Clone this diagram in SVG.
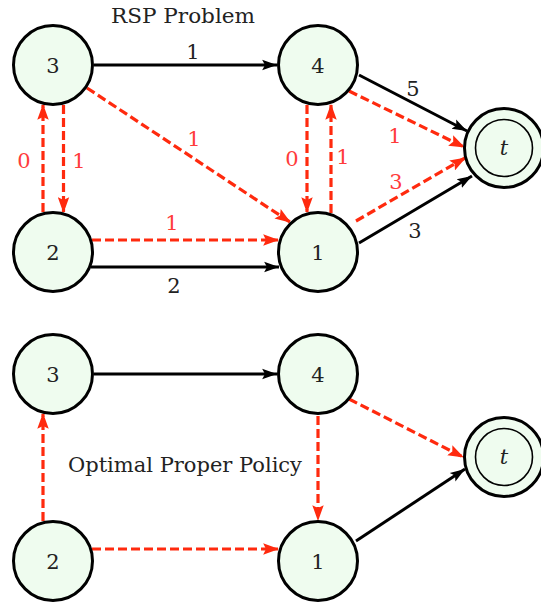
<svg xmlns="http://www.w3.org/2000/svg" width="541" height="607" viewBox="0 0 541 607">
<defs>
<marker id="ab" markerUnits="userSpaceOnUse" markerWidth="16" markerHeight="12" viewBox="0 0 14 10" refX="13" refY="5" orient="auto">
<path d="M0,0.5 L13,5 L0,9.5 L2.5,5 Z" fill="#000"/>
</marker>
<marker id="ar" markerUnits="userSpaceOnUse" markerWidth="16" markerHeight="12" viewBox="0 0 14 10" refX="13" refY="5" orient="auto">
<path d="M0,0 L14,5 L0,10 L2.5,5 Z" fill="#ff2a0e"/>
</marker>
</defs>
<style>
.node circle{fill:#effcef;stroke:#000;stroke-width:3}
.node circle.inner{fill:none;stroke:#000;stroke-width:1.6}
.node text{font-family:"DejaVu Serif",serif;font-size:21px;fill:#222;text-anchor:middle}
.b{stroke:#000;stroke-width:3;fill:none;marker-end:url(#ab)}
.r{stroke:#ff2a0e;stroke-width:3.2;fill:none;stroke-dasharray:9 4;marker-end:url(#ar)}
.lb{font-family:"DejaVu Serif",serif;font-size:21px;fill:#222;text-anchor:middle}
.lr{font-family:"DejaVu Serif",serif;font-size:21px;fill:#ff3b3b;text-anchor:middle}
.title{font-family:"DejaVu Serif",serif;font-size:19.5px;fill:#222;text-anchor:middle}
</style>
<text class="title" x="183" y="23" textLength="144" lengthAdjust="spacingAndGlyphs">RSP Problem</text>
<text class="title" x="185" y="472" textLength="234" lengthAdjust="spacingAndGlyphs">Optimal Proper Policy</text>
<g id="connectors">
<line class="b" x1="94" y1="65" x2="277" y2="65"/>
<line class="r" x1="87" y1="88" x2="290" y2="222"/>
<line class="r" x1="43" y1="212" x2="43" y2="105"/>
<line class="r" x1="63.5" y1="105" x2="63.5" y2="212"/>
<line class="r" x1="92" y1="240" x2="278" y2="240"/>
<line class="b" x1="91" y1="267" x2="279" y2="267"/>
<line class="r" x1="307" y1="105" x2="307" y2="212"/>
<line class="r" x1="331" y1="213" x2="331" y2="105"/>
<line class="b" x1="359" y1="75" x2="467" y2="131"/>
<line class="r" x1="349" y1="91" x2="464" y2="147"/>
<line class="r" x1="356" y1="221" x2="465" y2="158"/>
<line class="b" x1="359" y1="243" x2="472" y2="176"/>
<line class="b" x1="94" y1="374" x2="277" y2="374"/>
<line class="r" x1="43" y1="521" x2="43" y2="414"/>
<line class="r" x1="92" y1="549" x2="278" y2="549"/>
<line class="r" x1="318" y1="416" x2="318" y2="520"/>
<line class="r" x1="349" y1="399" x2="463" y2="457"/>
<line class="b" x1="356" y1="541" x2="465" y2="469"/>
<text class="lb" x="193" y="59">1</text>
<text class="lr" x="194" y="146">1</text>
<text class="lr" x="24" y="168">0</text>
<text class="lr" x="79" y="168">1</text>
<text class="lr" x="172" y="230">1</text>
<text class="lb" x="174" y="293">2</text>
<text class="lr" x="292" y="166">0</text>
<text class="lr" x="343" y="164">1</text>
<text class="lb" x="413" y="96">5</text>
<text class="lr" x="395" y="143">1</text>
<text class="lr" x="396" y="189">3</text>
<text class="lb" x="415" y="238">3</text>
</g>
<g id="n3" class="node"><circle cx="53" cy="65" r="39.5"/><text x="53" y="73">3</text></g>
<g id="n4" class="node"><circle cx="318" cy="65" r="39.5"/><text x="318" y="73">4</text></g>
<g id="nt" class="node"><circle cx="504" cy="148" r="39.5"/><circle class="inner" cx="504" cy="148" r="28.5"/><text x="504" y="155" font-style="italic">t</text></g>
<g id="n2" class="node"><circle cx="53" cy="252" r="39.5"/><text x="53" y="260">2</text></g>
<g id="n1" class="node"><circle cx="318" cy="252" r="39.5"/><text x="318" y="260">1</text></g>
<g id="b3" class="node"><circle cx="53" cy="374" r="39.5"/><text x="53" y="382">3</text></g>
<g id="b4" class="node"><circle cx="318" cy="374" r="39.5"/><text x="318" y="382">4</text></g>
<g id="bt" class="node"><circle cx="504" cy="457" r="39.5"/><circle class="inner" cx="504" cy="457" r="28.5"/><text x="504" y="464" font-style="italic">t</text></g>
<g id="b2" class="node"><circle cx="53" cy="561" r="39.5"/><text x="53" y="569">2</text></g>
<g id="b1" class="node"><circle cx="318" cy="561" r="39.5"/><text x="318" y="569">1</text></g>
</svg>
